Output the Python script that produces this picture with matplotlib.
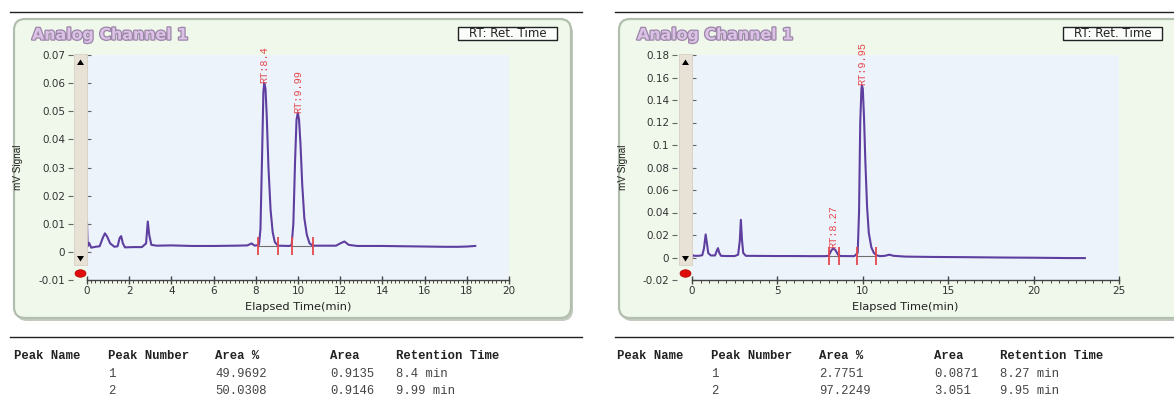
import matplotlib
matplotlib.use("Agg")
import matplotlib.pyplot as plt
from matplotlib.patches import FancyBboxPatch, Rectangle, Ellipse, Polygon
from matplotlib.transforms import Affine2D
from matplotlib.ticker import MultipleLocator, FuncFormatter
import matplotlib.patheffects as pe

# ---------------- run 1 : racemic sample ----------------
time_a = [0.0, 0.03, 0.1, 0.2, 0.4, 0.6, 0.75, 0.85, 0.95, 1.1, 1.3, 1.45, 1.55,
          1.62, 1.7, 1.8, 2.2, 2.6, 2.8, 2.88, 2.95, 3.05, 3.3, 4.0, 5.0, 6.0,
          7.0, 7.6, 7.8, 7.95, 8.15, 8.22, 8.3, 8.36, 8.4, 8.46, 8.52, 8.6,
          8.7, 8.8, 8.9, 9.05, 9.6, 9.7, 9.78, 9.86, 9.93, 9.99, 10.05, 10.12,
          10.2, 10.3, 10.42, 10.55, 10.7, 11.0, 11.8, 12.0, 12.2, 12.4, 12.8,
          14.0, 15.0, 16.0, 17.0, 17.6, 18.0, 18.4]
signal_a = [0.0105, 0.002, 0.0032, 0.0015, 0.0018, 0.002, 0.005, 0.0066, 0.0055,
            0.003, 0.0018, 0.002, 0.005, 0.0056, 0.003, 0.0016, 0.0017, 0.0017,
            0.003, 0.0108, 0.006, 0.0025, 0.0022, 0.0023, 0.0021, 0.0021,
            0.0022, 0.0023, 0.003, 0.0022, 0.0025, 0.008, 0.035, 0.057, 0.0600,
            0.058, 0.048, 0.030, 0.015, 0.007, 0.0035, 0.0022, 0.0021, 0.0025,
            0.010, 0.032, 0.047, 0.0495, 0.047, 0.038, 0.024, 0.012, 0.006,
            0.003, 0.0022, 0.0022, 0.0022, 0.003, 0.0037, 0.0025, 0.0021,
            0.0021, 0.002, 0.0019, 0.0018, 0.0018, 0.0019, 0.0021]
rt_a = [8.4, 9.99]
apex_a = [0.0600, 0.0495]
marks_a = [8.12, 9.05, 9.71, 10.69]
base_a = 0.0021
area_pct_a = ["49.9692", "50.0308"]
area_a = ["0.9135", "0.9146"]

# ---------------- run 2 : enriched sample ----------------
time_b = [0.0, 0.05, 0.15, 0.4, 0.6, 0.7, 0.8, 0.88, 0.95, 1.1, 1.35, 1.45, 1.52,
          1.6, 1.7, 2.0, 2.5, 2.7, 2.8, 2.86, 2.93, 3.0, 3.15, 4.0, 5.0, 6.0,
          7.0, 7.8, 8.0, 8.15, 8.27, 8.4, 8.55, 8.7, 9.5, 9.7, 9.78, 9.85,
          9.92, 9.95, 10.0, 10.07, 10.15, 10.25, 10.35, 10.5, 10.65, 10.8,
          11.0, 11.3, 11.55, 11.8, 12.5, 14.0, 16.0, 18.0, 20.0, 22.0, 23.0]
signal_b = [0.0, 0.002, 0.0015, 0.0015, 0.002, 0.008, 0.0205, 0.012, 0.004,
            0.0018, 0.0018, 0.006, 0.0083, 0.004, 0.0015, 0.0013, 0.0013,
            0.0025, 0.015, 0.0335, 0.015, 0.004, 0.0015, 0.0014, 0.0013,
            0.0013, 0.0012, 0.0012, 0.0015, 0.006, 0.0082, 0.0065, 0.0025,
            0.0013, 0.0012, 0.004, 0.04, 0.12, 0.15, 0.153, 0.150, 0.125,
            0.085, 0.045, 0.022, 0.009, 0.004, 0.002, 0.0012, 0.0015, 0.0025,
            0.0015, 0.0008, 0.0005, 0.0003, 0.0, -0.0002, -0.0005, -0.0005]
rt_b = [8.27, 9.95]
apex_b = [0.0082, 0.153]
marks_b = [8.04, 8.59, 9.67, 10.76]
base_b = 0.0012
area_pct_b = ["2.7751", "97.2249"]
area_b = ["0.0871", "3.051"]

peak_numbers = ["1", "2"]
table_headers = ["Peak Name", "Peak Number", "Area %", "Area", "Retention Time"]

W, H = 1174, 399
fig = plt.figure(figsize=(W / 100, H / 100), dpi=100)
fig.patch.set_facecolor("white")
# pixel coordinates, origin at the top-left corner
PX = Affine2D().scale(1 / 100, -1 / 100).translate(0, H / 100) + fig.dpi_scale_trans

TRACE = "#5e3fa0"
RED = "#e5484d"
TICK = "#444444"


def ax_rect(l, t, r, b):
    return [l / W, 1 - b / H, (r - l) / W, (b - t) / H]


def draw_run(times, values, rts, apexes, marks, base, pct, area,
             ox, panel_r, rule_r, ax_w, xmax, xstep, ymin, ymax, ystep,
             offset_pt, cols):
    # rules above and below the chart
    for y in (12, 337):
        fig.add_artist(plt.Line2D([ox - 4, rule_r], [y, y], transform=PX,
                                  color="#222", lw=1))

    # rounded green frame with shadow
    shadow = FancyBboxPatch((ox + 2, 22), panel_r - ox, 299,
                            boxstyle="round,pad=0,rounding_size=11",
                            transform=PX, fc="#c3cabf", ec="none", zorder=-6)
    frame = FancyBboxPatch((ox, 19), panel_r - ox, 299,
                           boxstyle="round,pad=0,rounding_size=11",
                           transform=PX, fc="#eff8eb", ec="#b3bfae",
                           lw=1.6, zorder=-5)
    fig.add_artist(shadow)
    fig.add_artist(frame)

    # title
    fig.text(ox + 18, 35, "Analog Channel 1", transform=PX, ha="left",
             va="center", fontsize=11.4, fontweight="bold", color="#dcc2e6",
             family="DejaVu Sans",
             path_effects=[pe.withStroke(linewidth=1.8, foreground="#9b86a8")])

    # legend box
    bx0, bx1 = ox + 444, ox + 543
    fig.add_artist(Rectangle((bx0, 27), bx1 - bx0, 13, transform=PX,
                             fc="#fbfdfa", ec="#222", lw=1))
    fig.text((bx0 + bx1) / 2, 33.6, "RT: Ret. Time", transform=PX,
             ha="center", va="center", fontsize=8.6, color="#222",
             family="DejaVu Sans")

    # plot area
    ax_l = ox + 73
    ax_r = ax_l + ax_w
    ax = fig.add_axes(ax_rect(ax_l, 55, ax_r, 280))
    ax.set_facecolor("#edf3fb")
    ax.set_xlim(0, xmax)
    ax.set_ylim(ymin, ymax)

    ax.plot([marks[0], marks[1]], [base, base], color="#6f6f6f", lw=0.8, zorder=2)
    ax.plot([marks[2], marks[3]], [base, base], color="#6f6f6f", lw=0.8, zorder=2)
    ax.plot(times, values, color=TRACE, lw=1.5, zorder=3)
    span = ymax - ymin
    ax.vlines(marks, base - 0.04 * span, base + 0.042 * span, colors=RED,
              lw=1.3, zorder=4)
    for rt, h in zip(rts, apexes):
        ax.text(rt, h, f"RT:{rt:g}", rotation=90, ha="center",
                va="bottom", fontsize=7.4, color=RED, family="Liberation Mono",
                clip_on=False, zorder=5)

    for s in ("top", "right"):
        ax.spines[s].set_visible(False)
    ax.spines["left"].set_position(("outward", offset_pt))
    ax.spines["left"].set_visible(False)
    ax.spines["bottom"].set_color(TICK)
    ax.spines["bottom"].set_linewidth(1)

    ax.xaxis.set_major_locator(MultipleLocator(xstep))
    ax.xaxis.set_minor_locator(MultipleLocator(xstep / 10))
    ax.yaxis.set_major_locator(MultipleLocator(ystep))
    ax.yaxis.set_major_formatter(
        FuncFormatter(lambda v, p: "0" if abs(v) < 1e-12 else f"{v:g}"))
    ax.tick_params(axis="x", which="major", direction="inout", length=6,
                   width=1, color=TICK, pad=1.5, labelsize=7.5, labelcolor="#333")
    ax.tick_params(axis="x", which="minor", direction="out", length=2.4,
                   width=0.7, color=TICK)
    ax.tick_params(axis="y", direction="out", length=3.6, width=0.8,
                   color="#666", pad=2, labelsize=7.5, labelcolor="#333")

    sec = ax.secondary_yaxis("left")
    sec.yaxis.set_major_locator(MultipleLocator(ystep))
    sec.tick_params(direction="in", length=3, width=0.8, color="#666",
                    labelleft=False)
    sec.spines["left"].set_visible(False)

    # scroll widget between tick labels and plot area
    sx0 = ax_l - 13
    fig.add_artist(Rectangle((sx0, 54), 13, 211, transform=PX,
                             fc="#e7e2d5", ec="#d5d0c3", lw=0.6, zorder=2))
    cx = sx0 + 6.5
    fig.add_artist(Polygon([(cx - 3.5, 65), (cx + 3.5, 65), (cx, 59.5)],
                           transform=PX, fc="black", ec="none", zorder=3))
    fig.add_artist(Polygon([(cx - 3.5, 256), (cx + 3.5, 256), (cx, 261.5)],
                           transform=PX, fc="black", ec="none", zorder=3))
    fig.add_artist(Ellipse((cx, 273.5), 11, 7.5, transform=PX, fc="#e00d0d",
                           ec="#b00000", lw=0.5, zorder=3))

    fig.text(ox + 4, 167, "mV Signal", transform=PX, rotation=90, ha="center",
             va="center", fontsize=7.2, color="#222", family="Liberation Sans")
    fig.text((ax_l + ax_r) / 2, 307, "Elapsed Time(min)", transform=PX,
             ha="center", va="center", fontsize=8.2, color="#222",
             family="DejaVu Sans")

    # peak table
    for x, head in zip(cols, table_headers):
        fig.text(x, 356, head, transform=PX, ha="left", va="center",
                 fontsize=8.8, fontweight="bold", color="#222",
                 family="Liberation Mono")
    for i, y in enumerate([374, 391]):
        row = [peak_numbers[i], pct[i], area[i], f"{rts[i]:g} min"]
        for x, val in zip(cols[1:], row):
            fig.text(x, y, val, transform=PX, ha="left", va="center",
                     fontsize=8.8, color="#444", family="Liberation Mono")
    return ax


draw_run(time_a, signal_a, rt_a, apex_a, marks_a, base_a, area_pct_a, area_a,
         ox=14, panel_r=571, rule_r=582, ax_w=422, xmax=20, xstep=2,
         ymin=-0.01, ymax=0.07, ystep=0.01, offset_pt=10,
         cols=[14, 108, 215, 330, 396])
draw_run(time_b, signal_b, rt_b, apex_b, marks_b, base_b, area_pct_b, area_b,
         ox=619, panel_r=1190, rule_r=W, ax_w=427, xmax=25, xstep=5,
         ymin=-0.02, ymax=0.18, ystep=0.02, offset_pt=10.8,
         cols=[617, 711, 819, 934, 1000])

fig.savefig("out.png", dpi=100, facecolor="white")
